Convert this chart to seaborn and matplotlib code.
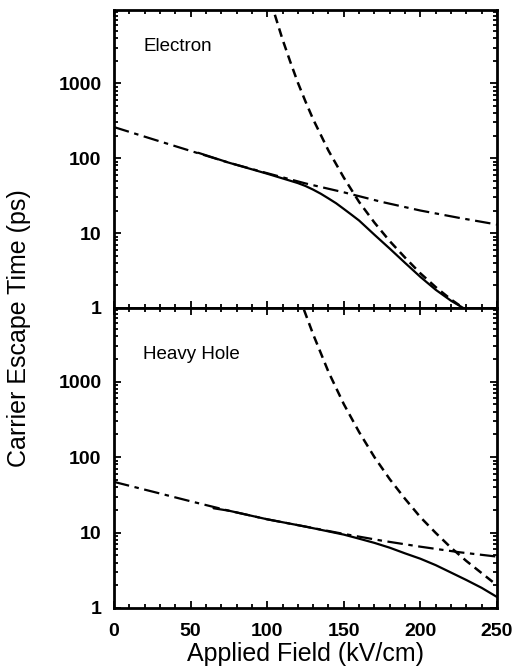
import numpy as np
import pandas as pd
import matplotlib
matplotlib.use('Agg')
import matplotlib.pyplot as plt
from matplotlib.ticker import MultipleLocator, LogLocator, FixedLocator, FixedFormatter, NullFormatter
import seaborn as sns

# ### data (field in kV/cm, time in ps)

# Electron: thermionic (dash-dot)
e_th_field = [0, 25, 50, 75, 100, 125, 150, 175, 200, 225, 250]
e_th_time = [260, 180, 125, 87, 63, 46, 35, 26, 20, 16, 13]
# Electron: tunneling (dashed)
e_tun_field = [105, 110, 115, 120, 125, 130, 140, 150, 160, 170, 180, 190, 200, 210, 220, 228]
e_tun_time = [8200, 3850, 1950, 1020, 570, 330, 126, 55, 26, 13.8, 7.8, 4.7, 2.9, 1.9, 1.3, 1.0]
# Electron: total (solid)
e_tot_field = [55, 75, 100, 115, 120, 125, 130, 135, 140, 145, 150, 155, 160, 170, 180, 190, 200, 210, 220, 228]
e_tot_time = [118, 87, 62, 50, 46.5, 42.5, 38, 33.5, 29, 25, 21, 17.6, 14.7, 9.5, 6.2, 4.0, 2.6, 1.75, 1.25, 1.0]

# Heavy hole: thermionic (dash-dot)
h_th_field = [0, 25, 50, 75, 100, 125, 150, 175, 200, 225, 250]
h_th_time = [47, 35, 26, 19.5, 15, 12, 9.6, 7.8, 6.5, 5.5, 4.8]
# Heavy hole: tunneling (dashed)
h_tun_field = [124, 130, 140, 150, 160, 170, 180, 190, 200, 210, 220, 230, 240, 250]
h_tun_time = [9000, 4250, 1350, 505, 215, 100, 51, 28, 16, 9.9, 6.3, 4.2, 2.9, 2.0]
# Heavy hole: total (solid)
h_tot_field = [65, 75, 100, 125, 150, 160, 170, 180, 190, 200, 210, 220, 230, 240, 250]
h_tot_time = [21, 19.5, 15, 12, 9.4, 8.3, 7.3, 6.3, 5.3, 4.5, 3.7, 2.95, 2.35, 1.85, 1.4]

panel_names = ['Electron', 'Heavy Hole']
y_ticks = [1, 10, 100, 1000]
y_tick_labels = ['1', '10', '100', '1000']
x_ticks = [0, 50, 100, 150, 200, 250]

sns.set_style('ticks')
plt.rcParams['font.family'] = ['Liberation Sans', 'DejaVu Sans']
plt.rcParams['text.color'] = 'black'
plt.rcParams['axes.labelcolor'] = 'black'

fig = plt.figure(figsize=(5.15, 6.66), dpi=100)
left, right = 114 / 515, 497 / 515
ax_top = fig.add_axes([left, 1 - 308 / 666, right - left, 298 / 666])
ax_bot = fig.add_axes([left, 1 - 608 / 666, right - left, 300 / 666])

dash_dot = (0, (7, 2.5, 2, 2.5))
dashed = (0, (3.5, 2.2))

curves = [
    (ax_top, e_th_field, e_th_time, e_tun_field, e_tun_time, e_tot_field, e_tot_time),
    (ax_bot, h_th_field, h_th_time, h_tun_field, h_tun_time, h_tot_field, h_tot_time),
]
label_y = [0.877, 0.845]

for i, (ax, thf, tht, tuf, tut, tof, tot) in enumerate(curves):
    ax.set_yscale('log')
    sns.lineplot(x=thf, y=tht, ax=ax, color='black', lw=1.6, linestyle=dash_dot)
    sns.lineplot(x=tuf, y=tut, ax=ax, color='black', lw=1.8, linestyle=dashed)
    sns.lineplot(x=tof, y=tot, ax=ax, color='black', lw=1.6)
    ax.set_xlim(0, 250)
    ax.set_ylim(1, 9500)
    ax.xaxis.set_major_locator(FixedLocator(x_ticks))
    ax.xaxis.set_minor_locator(MultipleLocator(10))
    ax.yaxis.set_major_locator(FixedLocator(y_ticks))
    ax.yaxis.set_major_formatter(FixedFormatter(y_tick_labels))
    ax.yaxis.set_minor_locator(LogLocator(base=10, subs=np.arange(2, 10)))
    ax.yaxis.set_minor_formatter(NullFormatter())
    ax.tick_params(which='both', direction='in', top=True, right=True,
                   width=1.3, colors='black', labelcolor='black')
    ax.tick_params(which='major', length=5, labelsize=14)
    ax.tick_params(axis='y', which='major', pad=9)
    ax.tick_params(axis='x', which='major', pad=11)
    ax.tick_params(which='minor', length=3)
    for lab in ax.get_yticklabels() + ax.get_xticklabels():
        lab.set_fontweight('bold')
    for sp in ax.spines.values():
        sp.set_linewidth(2)
        sp.set_color('black')
    ax.set_xlabel('')
    ax.set_ylabel('')
    ax.text(0.077, label_y[i], panel_names[i], transform=ax.transAxes,
            fontsize=13.5, ha='left', va='center', color='black')

ax_top.tick_params(axis='x', labelbottom=False)
ax_bot.set_xlabel('Applied Field (kV/cm)', fontsize=18, labelpad=1)
fig.text(0.037, 1 - 328 / 666, 'Carrier Escape Time (ps)', rotation=90,
         fontsize=18, ha='center', va='center', color='black')

fig.savefig('out.png', dpi=100, facecolor='white')
